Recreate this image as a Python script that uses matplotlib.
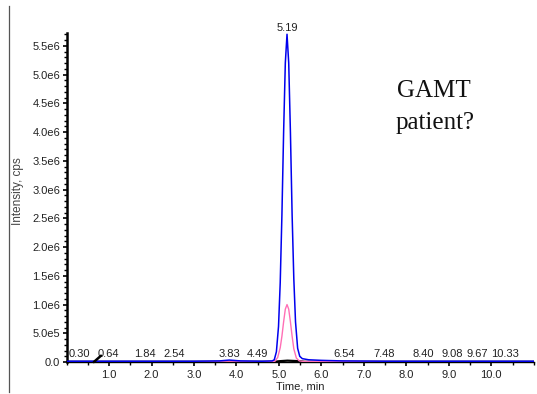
import matplotlib
matplotlib.use("Agg")
import matplotlib.pyplot as plt
from matplotlib.lines import Line2D
from matplotlib.ticker import FixedLocator, MultipleLocator

# Extracted ion chromatogram traces (time in min, intensity in cps)
blue_time = [0.0, 1.0, 2.0, 3.0, 3.6, 3.83, 4.1, 4.6, 4.84, 4.89, 4.94, 4.99, 5.03,
             5.07, 5.11, 5.15, 5.19, 5.23, 5.27, 5.31, 5.35, 5.39, 5.44, 5.49, 5.55,
             5.7, 6.0, 6.5, 7.5, 9.0, 11.0]
blue_int = [1.5e4, 1.5e4, 1.5e4, 1.5e4, 2.0e4, 3.5e4, 2.0e4, 1.5e4, 2.0e4, 4.0e4, 1.8e5,
            6.2e5, 1.38e6, 2.56e6, 4.0e6, 5.2e6, 5.7e6, 5.2e6, 4.0e6, 2.56e6, 1.45e6,
            7.0e5, 2.4e5, 1.0e5, 6.0e4, 4.0e4, 3.0e4, 2.0e4, 1.5e4, 1.5e4, 1.5e4]

pink_time = [0.0, 4.5, 4.9, 4.97, 5.03, 5.07, 5.11, 5.15, 5.19, 5.23, 5.27, 5.31,
             5.35, 5.41, 5.48, 5.6, 11.0]
pink_int = [5.0e3, 5.0e3, 1.0e4, 8.0e4, 2.5e5, 4.5e5, 7.0e5, 9.2e5, 1.0e6, 9.2e5,
            7.0e5, 4.5e5, 2.3e5, 7.0e4, 2.0e4, 1.0e4, 5.0e3]

black_time = [0.0, 4.9, 5.0, 5.2, 5.5, 5.6, 11.0]
black_int = [5.0e3, 5.0e3, 1.5e4, 2.5e4, 1.5e4, 5.0e3, 5.0e3]

# Retention times of detected peaks
peak_times = [0.30, 0.64, 1.84, 2.54, 3.83, 4.49, 6.54, 7.48, 8.40, 9.08, 9.67, 10.33]
apex_time = 5.19
apex_int = 5.7e6

x_ticks = [1.0, 2.0, 3.0, 4.0, 5.0, 6.0, 7.0, 8.0, 9.0, 10.0]
x_tick_labels = ["1.0", "2.0", "3.0", "4.0", "5.0", "6.0", "7.0", "8.0", "9.0", "10.0"]
y_ticks = [0.0, 0.5e6, 1.0e6, 1.5e6, 2.0e6, 2.5e6, 3.0e6, 3.5e6, 4.0e6, 4.5e6, 5.0e6, 5.5e6]
y_tick_labels = ["0.0", "5.0e5", "1.0e6", "1.5e6", "2.0e6", "2.5e6", "3.0e6",
                 "3.5e6", "4.0e6", "4.5e6", "5.0e6", "5.5e6"]

plt.rcParams["font.family"] = ["Liberation Sans", "DejaVu Sans"]

fig = plt.figure(figsize=(5.37, 3.94), dpi=100)
ax = fig.add_axes([0.124, 0.081, 0.870, 0.835])

ax.plot(black_time, black_int, color="black", lw=1.6, zorder=3)
ax.plot(pink_time, pink_int, color="#ff6fb5", lw=1.0, zorder=4)
ax.plot(blue_time, blue_int, color="#0000ee", lw=1.1, zorder=5)

ax.set_xlim(0, 11.0)
ax.set_ylim(0, 5.72e6)

for s in ("top", "right"):
    ax.spines[s].set_visible(False)
ax.spines["left"].set_linewidth(1.8)
ax.spines["bottom"].set_linewidth(1.0)

ax.xaxis.set_major_locator(FixedLocator(x_ticks))
ax.set_xticklabels(x_tick_labels)
ax.xaxis.set_minor_locator(MultipleLocator(0.5))
ax.yaxis.set_major_locator(FixedLocator(y_ticks))
ax.set_yticklabels(y_tick_labels)
ax.yaxis.set_minor_locator(MultipleLocator(1.0e5))

ax.tick_params(axis="both", which="major", labelsize=8, length=3, width=1.2,
               direction="out", labelcolor="#222222")
ax.tick_params(axis="x", which="major", pad=3)
ax.tick_params(axis="y", which="major", pad=1.5)
ax.tick_params(axis="both", which="minor", length=2, width=1.0, direction="out")

ax.set_xlabel("Time, min", fontsize=8, labelpad=1, color="#222222")
ax.set_ylabel("Intensity, cps", fontsize=8.5, color="#444444")
ax.yaxis.set_label_coords(-0.092, 0.52)

# Peak retention-time labels along the baseline
for t in peak_times:
    if t == 0.64:
        # shifted label with a short leader back to the peak
        ax.annotate("", xy=(t, 0), xytext=(5.2, 4.6), textcoords="offset points",
                    zorder=7, arrowprops=dict(arrowstyle="-", color="black", lw=1.8,
                                              shrinkA=0, shrinkB=0))
        ax.annotate(f"{t:.2f}", xy=(t, 0), xytext=(10.5, 2.5), textcoords="offset points",
                    ha="center", va="bottom", fontsize=8, color="#222222")
    else:
        ax.annotate(f"{t:.2f}", xy=(t, 0), xytext=(0, 2.5), textcoords="offset points",
                    ha="center", va="bottom", fontsize=8, color="#222222")

ax.annotate(f"{apex_time:.2f}", xy=(apex_time, apex_int), xytext=(0, 1),
            textcoords="offset points", ha="center", va="bottom", fontsize=8,
            color="#222222", annotation_clip=False)

serif = ["Liberation Serif", "DejaVu Serif"]
fig.text(433.5 / 537, 1 - 91 / 394, "GAMT", family=serif, fontsize=18,
         ha="center", va="center", color="#111111")
fig.text(435.5 / 537, 1 - 123 / 394, "patient?", family=serif, fontsize=18,
         ha="center", va="center", color="#111111")

fig.add_artist(Line2D([0.017, 0.017], [0.005, 0.985], transform=fig.transFigure,
                      color="#555555", lw=0.9))

fig.savefig("out.png", dpi=100)
